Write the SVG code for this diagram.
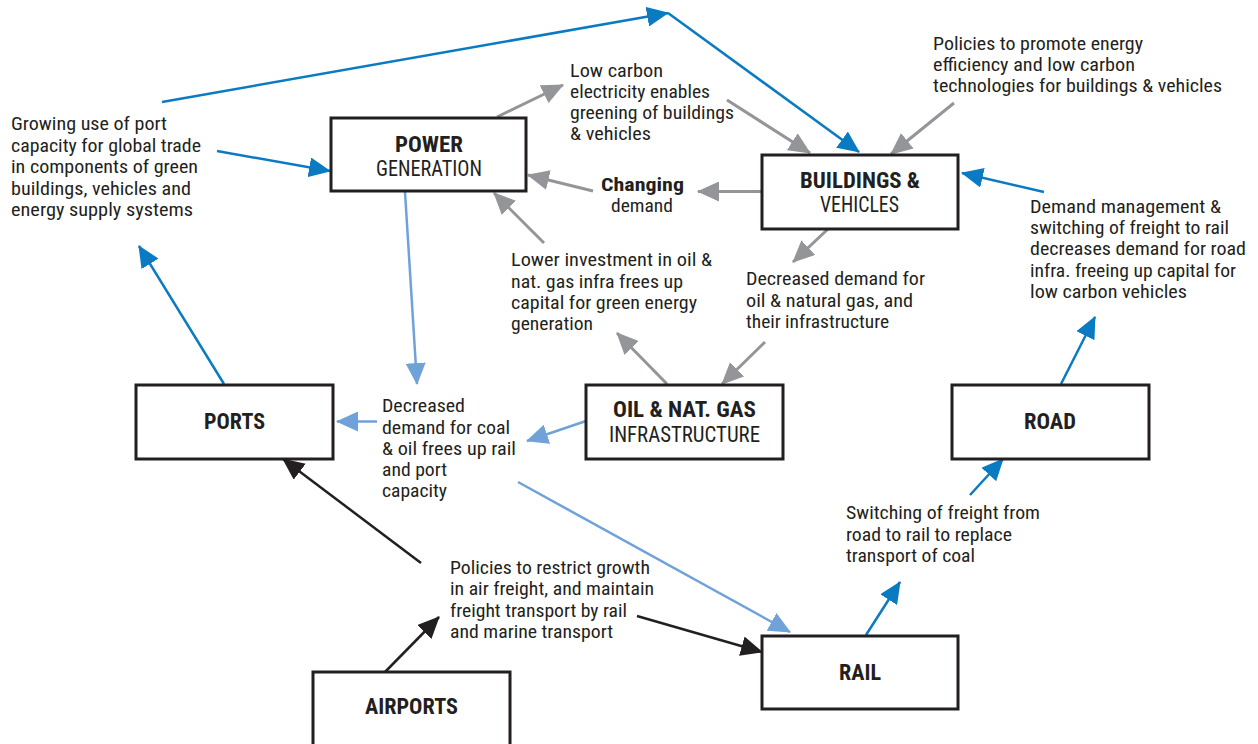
<svg xmlns="http://www.w3.org/2000/svg" width="1258" height="744" viewBox="0 0 1258 744">
<style>
text{font-family:"Liberation Sans Narrow","Roboto Condensed","Liberation Sans",Arial,sans-serif;fill:#231f20;}
.lbl{font-size:19px;}
.bt{font-size:22px;font-weight:bold;}
.bs{font-size:22px;}
.box{fill:#fff;stroke:#231f20;stroke-width:3;}
.c{fill:none;stroke-width:2.5;}
.db{stroke:#0a7bc2;marker-end:url(#mDB);}
.lb{stroke:#6fa2d8;marker-end:url(#mLB);}
.gr{stroke:#939598;stroke-width:3;marker-end:url(#mGR);}
.bk{stroke:#231f20;marker-end:url(#mBK);}
</style>
<defs>
<marker id="mDB" markerUnits="userSpaceOnUse" markerWidth="22" markerHeight="20" refX="21" refY="10" orient="auto"><path d="M0,0 L22,10 L0,20 z" fill="#0a7bc2"/></marker>
<marker id="mLB" markerUnits="userSpaceOnUse" markerWidth="22" markerHeight="20" refX="21" refY="10" orient="auto"><path d="M0,0 L22,10 L0,20 z" fill="#6fa2d8"/></marker>
<marker id="mGR" markerUnits="userSpaceOnUse" markerWidth="22" markerHeight="20" refX="21" refY="10" orient="auto"><path d="M0,0 L22,10 L0,20 z" fill="#939598"/></marker>
<marker id="mBK" markerUnits="userSpaceOnUse" markerWidth="22" markerHeight="20" refX="21" refY="10" orient="auto"><path d="M0,0 L22,10 L0,20 z" fill="#231f20"/></marker>
</defs>
<rect width="1258" height="744" fill="#fff"/>

<g id="connectors">
<path class="c db" d="M162,102 L668,13"/>
<path class="c db" d="M668,13 L859,152"/>
<path class="c db" d="M217,151 L330,171"/>
<path class="c db" d="M224,384 L139,246"/>
<path class="c db" d="M1044,192 L962,173"/>
<path class="c db" d="M1061,384 L1095,317"/>
<path class="c db" d="M970,495 L1003,459"/>
<path class="c db" d="M866,635 L900,582"/>

<path class="c lb" d="M405,192 L417,384"/>
<path class="c lb" d="M377,421.5 L337,421.5"/>
<path class="c lb" d="M586,421 L527,441"/>
<path class="c lb" d="M518,482 L790,632"/>

<path class="c gr" d="M497,117 L563,85"/>
<path class="c gr" d="M727,100 L810,153"/>
<path class="c gr" d="M593,191 L528,175"/>
<path class="c gr" d="M762,191.5 L698,191.5"/>
<path class="c gr" d="M544,243 L494,193"/>
<path class="c gr" d="M667,384 L617,333"/>
<path class="c gr" d="M765,342 L722,384"/>
<path class="c gr" d="M828,229 L793,262"/>
<path class="c gr" d="M954,103 L891,154"/>

<path class="c bk" d="M421,563 L283,459"/>
<path class="c bk" d="M385,672 L439,617"/>
<path class="c bk" d="M637,616 L762,652"/>
</g>

<g id="power">
<rect class="box" x="331" y="118" width="195" height="73"/>
<text class="bt" x="395" y="152" textLength="68" lengthAdjust="spacingAndGlyphs">POWER</text>
<text class="bs" x="376" y="176" textLength="106" lengthAdjust="spacingAndGlyphs">GENERATION</text>
</g>
<g id="buildings">
<rect class="box" x="762" y="155" width="196" height="74"/>
<text class="bt" x="800" y="188" textLength="120" lengthAdjust="spacingAndGlyphs">BUILDINGS &amp;</text>
<text class="bs" x="820" y="212" textLength="79" lengthAdjust="spacingAndGlyphs">VEHICLES</text>
</g>
<g id="ports">
<rect class="box" x="136" y="385" width="197" height="74"/>
<text class="bt" x="204" y="429" textLength="61" lengthAdjust="spacingAndGlyphs">PORTS</text>
</g>
<g id="oilgas">
<rect class="box" x="586" y="385" width="197" height="74"/>
<text class="bt" x="613" y="417" textLength="143" lengthAdjust="spacingAndGlyphs">OIL &amp; NAT. GAS</text>
<text class="bs" x="609" y="442" textLength="151" lengthAdjust="spacingAndGlyphs">INFRASTRUCTURE</text>
</g>
<g id="road">
<rect class="box" x="952" y="385" width="197" height="74"/>
<text class="bt" x="1024" y="429" textLength="52" lengthAdjust="spacingAndGlyphs">ROAD</text>
</g>
<g id="rail">
<rect class="box" x="762" y="636" width="196" height="73"/>
<text class="bt" x="839" y="680" textLength="42" lengthAdjust="spacingAndGlyphs">RAIL</text>
</g>
<g id="airports">
<rect class="box" x="313" y="672" width="197" height="95"/>
<text class="bt" x="365" y="714" textLength="93" lengthAdjust="spacingAndGlyphs">AIRPORTS</text>
</g>

<g id="label-growing">
<text class="lbl"><tspan x="11" y="130" textLength="156" lengthAdjust="spacingAndGlyphs">Growing use of port</tspan><tspan x="11" y="151.5" textLength="190" lengthAdjust="spacingAndGlyphs">capacity for global trade</tspan><tspan x="11" y="173" textLength="187" lengthAdjust="spacingAndGlyphs">in components of green</tspan><tspan x="11" y="194.5" textLength="180" lengthAdjust="spacingAndGlyphs">buildings, vehicles and</tspan><tspan x="11" y="216" textLength="182" lengthAdjust="spacingAndGlyphs">energy supply systems</tspan></text>
</g>
<g id="label-lowcarbon">
<text class="lbl"><tspan x="570" y="77" textLength="93" lengthAdjust="spacingAndGlyphs">Low carbon</tspan><tspan x="570" y="98" textLength="140" lengthAdjust="spacingAndGlyphs">electricity enables</tspan><tspan x="570" y="119" textLength="164" lengthAdjust="spacingAndGlyphs">greening of buildings</tspan><tspan x="570" y="140" textLength="81" lengthAdjust="spacingAndGlyphs">&amp; vehicles</tspan></text>
</g>
<g id="label-changing">
<text class="lbl" font-weight="bold" font-size="20" x="601" y="191" textLength="83" lengthAdjust="spacingAndGlyphs">Changing</text>
<text class="lbl" x="611" y="212" textLength="62" lengthAdjust="spacingAndGlyphs">demand</text>
</g>
<g id="label-policies-energy">
<text class="lbl"><tspan x="933" y="49.5" textLength="210" lengthAdjust="spacingAndGlyphs">Policies to promote energy</tspan><tspan x="933" y="70.5" textLength="202" lengthAdjust="spacingAndGlyphs">efficiency and low carbon</tspan><tspan x="933" y="91.5" textLength="289" lengthAdjust="spacingAndGlyphs">technologies for buildings &amp; vehicles</tspan></text>
</g>
<g id="label-demand-mgmt">
<text class="lbl"><tspan x="1030" y="213" textLength="191" lengthAdjust="spacingAndGlyphs">Demand management &amp;</tspan><tspan x="1030" y="234" textLength="199" lengthAdjust="spacingAndGlyphs">switching of freight to rail</tspan><tspan x="1030" y="255" textLength="216" lengthAdjust="spacingAndGlyphs">decreases demand for road</tspan><tspan x="1030" y="276.5" textLength="206" lengthAdjust="spacingAndGlyphs">infra. freeing up capital for</tspan><tspan x="1030" y="297.5" textLength="157" lengthAdjust="spacingAndGlyphs">low carbon vehicles</tspan></text>
</g>
<g id="label-lower-investment">
<text class="lbl"><tspan x="511" y="266" textLength="201" lengthAdjust="spacingAndGlyphs">Lower investment in oil &amp;</tspan><tspan x="511" y="287.5" textLength="172" lengthAdjust="spacingAndGlyphs">nat. gas infra frees up</tspan><tspan x="511" y="309" textLength="186" lengthAdjust="spacingAndGlyphs">capital for green energy</tspan><tspan x="511" y="330" textLength="82" lengthAdjust="spacingAndGlyphs">generation</tspan></text>
</g>
<g id="label-decreased-oil">
<text class="lbl"><tspan x="746" y="285" textLength="179" lengthAdjust="spacingAndGlyphs">Decreased demand for</tspan><tspan x="746" y="306.5" textLength="167" lengthAdjust="spacingAndGlyphs">oil &amp; natural gas, and</tspan><tspan x="746" y="327.5" textLength="143" lengthAdjust="spacingAndGlyphs">their infrastructure</tspan></text>
</g>
<g id="label-decreased-coal">
<text class="lbl"><tspan x="382" y="412" textLength="83" lengthAdjust="spacingAndGlyphs">Decreased</tspan><tspan x="382" y="433.5" textLength="128" lengthAdjust="spacingAndGlyphs">demand for coal</tspan><tspan x="382" y="455" textLength="134" lengthAdjust="spacingAndGlyphs">&amp; oil frees up rail</tspan><tspan x="382" y="476" textLength="65" lengthAdjust="spacingAndGlyphs">and port</tspan><tspan x="382" y="497" textLength="65" lengthAdjust="spacingAndGlyphs">capacity</tspan></text>
</g>
<g id="label-policies-air">
<text class="lbl"><tspan x="450" y="574" textLength="200" lengthAdjust="spacingAndGlyphs">Policies to restrict growth</tspan><tspan x="450" y="595" textLength="204" lengthAdjust="spacingAndGlyphs">in air freight, and maintain</tspan><tspan x="450" y="616.5" textLength="177" lengthAdjust="spacingAndGlyphs">freight transport by rail</tspan><tspan x="450" y="637.5" textLength="163" lengthAdjust="spacingAndGlyphs">and marine transport</tspan></text>
</g>
<g id="label-switching">
<text class="lbl"><tspan x="846" y="519" textLength="194" lengthAdjust="spacingAndGlyphs">Switching of freight from</tspan><tspan x="846" y="540.5" textLength="166" lengthAdjust="spacingAndGlyphs">road to rail to replace</tspan><tspan x="846" y="561.5" textLength="129" lengthAdjust="spacingAndGlyphs">transport of coal</tspan></text>
</g>
</svg>
